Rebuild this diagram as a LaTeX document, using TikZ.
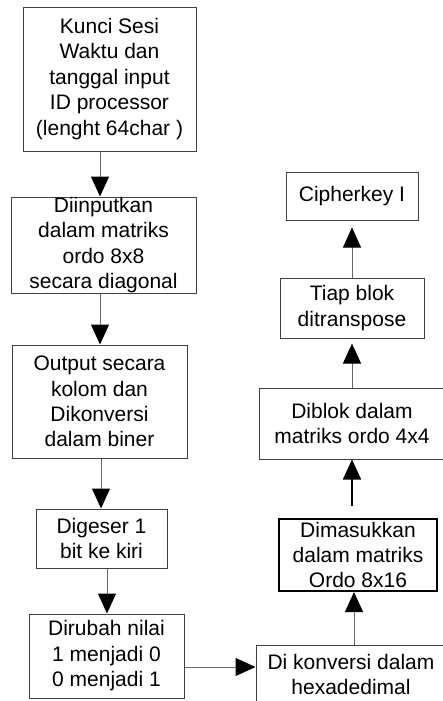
\documentclass[tikz,border=0pt]{standalone}
\usepackage{fontspec}
\setmainfont{Liberation Sans}
\usetikzlibrary{arrows.meta}
\begin{document}
\begin{tikzpicture}[x=0.75pt,y=-0.75pt,
  box/.style={draw=black!75, line width=0.75pt, align=center, inner sep=0pt,
    font=\fontsize{15.75pt}{19.1pt}\selectfont},
  thickbox/.style={box, draw=black, line width=1.5pt},
  arr/.style={draw=black!60, line width=0.75pt,
    -{Triangle[width=13.5pt,length=15pt,color=black]}},
  thickarr/.style={arr, draw=black, line width=1.3pt}]
\clip (0,0) rectangle (443,701);
\fill[white] (0,0) rectangle (443,701);

\node[box, minimum width=129.75pt, minimum height=108pt] (b1) at (109.5,79)
  {Kunci Sesi\\Waktu dan\\tanggal input\\ID processor\\(lenght 64char )};
\node[box, minimum width=138.75pt, minimum height=72pt] (b2) at (103.5,245)
  {Diinputkan\\dalam matriks\\ordo 8x8\\secara diagonal};
\node[box, minimum width=131.25pt, minimum height=84.75pt] (b3) at (99.5,401.5)
  {Output secara\\kolom dan\\Dikonversi\\dalam biner};
\node[box, minimum width=98.25pt, minimum height=44.25pt] (b4) at (101.5,538.5)
  {Digeser 1\\bit ke kiri};
\node[box, minimum width=116.25pt, minimum height=63pt] (b5) at (106.5,656)
  {Dirubah nilai\\1 menjadi 0\\0 menjadi 1};
\node[box, minimum width=142.5pt, minimum height=44.25pt] (b6) at (351,674.5)
  {Di konversi dalam\\hexadedimal};
\node[thickbox, minimum width=118.5pt, minimum height=54pt] (b7) at (358,555)
  {Dimasukkan\\dalam matriks\\Ordo 8x16};
\node[box, minimum width=139.5pt, minimum height=53.25pt] (b8) at (352,423.5)
  {Diblok dalam\\matriks ordo 4x4};
\node[box, minimum width=108pt, minimum height=45pt] (b9) at (352,308)
  {Tiap blok\\ditranspose};
\node[box, minimum width=99pt, minimum height=36pt] (b10) at (352,196)
  {Cipherkey I};

\draw[arr] (100,0 |- b1.south) -- (100,0 |- b2.north);
\draw[arr] (100,0 |- b2.south) -- (100,0 |- b3.north);
\draw[arr] (101,0 |- b3.south) -- (101,0 |- b4.north);
\draw[arr] (107,0 |- b4.south) -- (107,0 |- b5.north);
\draw[arr] (b5.east |- 0,667) -- (b6.west |- 0,667);
\draw[arr] (354,0 |- b6.north) -- (354,0 |- b7.south);
\draw[thickarr, shorten <=9pt] (352,0 |- b7.north) -- (352,0 |- b8.south);
\draw[arr, shorten >=3.75pt] (352,0 |- b8.north) -- (352,0 |- b9.south);
\draw[arr, shorten >=5.25pt] (352,0 |- b9.north) -- (352,0 |- b10.south);
\end{tikzpicture}
\end{document}
